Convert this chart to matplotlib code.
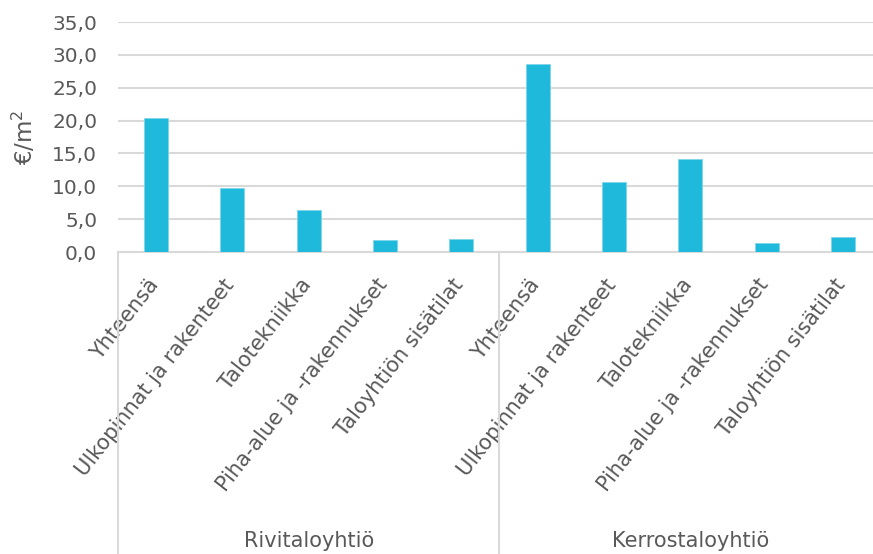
import matplotlib
matplotlib.use("Agg")
import matplotlib.pyplot as plt
from matplotlib.transforms import blended_transform_factory
from matplotlib.lines import Line2D
import numpy as np

groups = ["Rivitaloyhtiö", "Kerrostaloyhtiö"]
categories = ["Yhteensä", "Ulkopinnat ja rakenteet", "Talotekniikka",
              "Piha-alue ja -rakennukset", "Taloyhtiön sisätilat"]
rivitalo = [20.4, 9.8, 6.4, 1.9, 2.0]
kerrostalo = [28.6, 10.6, 14.2, 1.3, 2.3]
yticks = [0, 5, 10, 15, 20, 25, 30, 35]

plt.rcParams['font.family'] = ['DejaVu Sans']
plt.rcParams['mathtext.fontset'] = 'dejavusans'
txt = '#595959'
bar_color = '#1fbadb'
grid_color = '#d9d9d9'

W, H = 873, 554
fig = plt.figure(figsize=(W / 100, H / 100), dpi=100)
ax = fig.add_axes([118 / W, 1 - 252 / H, (881 - 118) / W, (252 - 22) / H])

values = rivitalo + kerrostalo
labels = categories + categories
x = np.arange(len(values))
ax.bar(x, values, width=0.315, color=bar_color, edgecolor='#7fd6ea', linewidth=0.6, zorder=3)

ax.set_xlim(-0.5, len(values) - 0.5)
ax.set_ylim(0, 35)
ax.set_yticks(yticks)
ax.set_yticklabels([f"{v:.1f}".replace('.', ',') for v in yticks], fontsize=14.5, color=txt)
ax.yaxis.grid(True, color=grid_color, linewidth=1.5, zorder=0)
ax.set_axisbelow(True)
for s in ['top', 'right', 'left']:
    ax.spines[s].set_visible(False)
ax.spines['bottom'].set_color(grid_color)
ax.spines['bottom'].set_linewidth(1.5)
ax.tick_params(axis='y', length=0, pad=15)
ax.tick_params(axis='x', length=0)
ax.set_xticks(x)
ax.set_xticklabels([])
ax.set_ylabel("€/m$^2$", fontsize=16.5, color=txt)
ax.yaxis.set_label_coords((38 - 118) / 763, 0.5)

# rotated category labels
for xi, lab in zip(x, labels):
    ax.annotate(lab, xy=(xi, 0), xycoords='data', xytext=(3, -33), textcoords='offset pixels',
                fontsize=15, color=txt, rotation=52, rotation_mode='anchor',
                ha='right', va='baseline', annotation_clip=False)

# group separators
tr = blended_transform_factory(ax.transData, fig.transFigure)
for xs in [-0.5, 4.5, 9.5]:
    fig.add_artist(Line2D([xs, xs], [0, 1 - 252 / H], transform=tr, color=grid_color, linewidth=1.5))

for gi, g in enumerate(groups):
    fig.text(gi * 5 + 2, 1 - 541 / H, g, transform=tr, fontsize=15, color=txt, ha='center', va='center')

fig.savefig("out.png", dpi=100)
